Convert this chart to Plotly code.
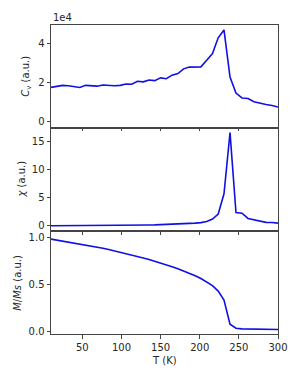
import plotly.graph_objects as go
from plotly.subplots import make_subplots

# Temperature (K)
T = [10.0, 17.4, 24.7, 32.1, 39.5, 46.8, 54.2, 61.6, 68.9, 76.3,
     83.7, 91.0, 98.4, 105.8, 113.1, 120.5, 127.9, 135.2, 142.6, 150.0,
     157.3, 164.7, 172.1, 179.4, 186.8, 194.2, 201.5, 208.9, 216.3, 223.6,
     231.0, 238.7, 246.3, 254.0, 261.7, 269.3, 277.0, 284.7, 292.3, 300.0]

# Specific heat Cv (a.u.)
cv = [17600, 18000, 18600, 18400, 18100, 17500, 18600, 18400, 18200, 18800,
      18500, 18400, 18600, 19300, 19200, 20700, 20400, 21300, 21000, 22400,
      22000, 23800, 24600, 27000, 27900, 28000, 28000, 31400, 34800, 42800,
      46800, 22800, 14700, 12200, 11900, 10300, 9400, 8900, 8400, 7600]

# Susceptibility chi (a.u.)
chi = [0.02, 0.02, 0.03, 0.03, 0.03, 0.04, 0.04, 0.05, 0.05, 0.06,
       0.06, 0.07, 0.08, 0.09, 0.10, 0.11, 0.13, 0.15, 0.17, 0.20,
       0.23, 0.27, 0.32, 0.37, 0.43, 0.49, 0.57, 0.78, 1.22, 2.10,
       5.70, 16.6, 2.38, 2.25, 1.32, 1.08, 0.86, 0.62, 0.60, 0.48]

# Magnetisation M/Ms
mag = [0.988, 0.978, 0.968, 0.958, 0.948, 0.938, 0.927, 0.915, 0.903, 0.890,
       0.877, 0.863, 0.849, 0.834, 0.818, 0.802, 0.786, 0.769, 0.751, 0.734,
       0.714, 0.693, 0.671, 0.648, 0.622, 0.595, 0.566, 0.531, 0.490, 0.432,
       0.335, 0.077, 0.035, 0.028, 0.026, 0.024, 0.023, 0.022, 0.021, 0.021]

x_ticks = [50, 100, 150, 200, 250, 300]

fig = make_subplots(rows=3, cols=1, shared_xaxes=True, vertical_spacing=2 / 309)

for i, yv in enumerate([cv, chi, mag], start=1):
    fig.add_trace(go.Scatter(x=T, y=yv, mode="lines",
                             line=dict(color="#1010e6", width=1.6),
                             hoverinfo="skip"), row=i, col=1)

axis_style = dict(showline=True, linecolor="#444", linewidth=1, mirror=True,
                  ticks="outside", ticklen=3.5, tickwidth=1, tickcolor="#444",
                  showgrid=False, zeroline=False)

for i in range(1, 4):
    fig.update_xaxes(range=[10, 300], tickvals=x_ticks, row=i, col=1, **axis_style)

fig.update_yaxes(range=[-2400, 49300], tickvals=[0, 20000, 40000],
                 ticktext=["0", "2", "4"], row=1, col=1, **axis_style)
fig.update_yaxes(range=[-0.8, 17.3], tickvals=[0, 5, 10, 15], row=2, col=1, **axis_style)
fig.update_yaxes(range=[-0.027, 1.06], tickvals=[0, 0.5, 1.0],
                 ticktext=["0.0", "0.5", "1.0"], row=3, col=1, **axis_style)

annotations = [
    dict(text="<i>C</i><sub>v</sub> (a.u.)", xref="x domain", yref="y domain",
         x=-0.106, y=0.5, textangle=-90, showarrow=False, xanchor="center", yanchor="middle"),
    dict(text="<i>χ</i> (a.u.)", xref="x2 domain", yref="y2 domain",
         x=-0.132, y=0.5, textangle=-90, showarrow=False, xanchor="center", yanchor="middle"),
    dict(text="<i>M</i>/<i>Ms</i> (a.u.)", xref="x3 domain", yref="y3 domain",
         x=-0.147, y=0.5, textangle=-90, showarrow=False, xanchor="center", yanchor="middle"),
    dict(text="1e4", xref="x domain", yref="y domain", x=0, y=1,
         xanchor="left", yanchor="bottom", showarrow=False, yshift=0),
    dict(text="T (K)", xref="x3 domain", yref="y3 domain", x=0.5, y=-0.26,
         xanchor="center", yanchor="middle", showarrow=False),
]

fig.update_layout(
    width=301, height=368,
    margin=dict(l=51, r=23, t=25, b=34),
    paper_bgcolor="white", plot_bgcolor="white",
    showlegend=False,
    font=dict(family="DejaVu Sans", size=10, color="#262626"),
    annotations=annotations,
)

fig.write_html("out.html")
